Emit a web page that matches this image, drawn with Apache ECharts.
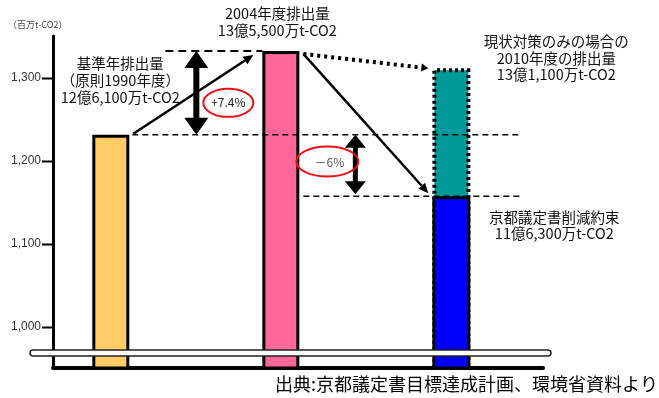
<!DOCTYPE html>
<html>
<head>
<meta charset="utf-8">
<script src="https://cdn.jsdelivr.net/npm/echarts@6/dist/echarts.min.js"></script>
<style>
html,body{margin:0;padding:0;background:#fff;}
#main{width:659px;height:398px;}
</style>
</head>
<body>
<div id="main"></div>
<script>
// ---- data ----
const categories = ['基準年(1990年度)', '2004年度', '2010年度'];
const actualValues = [1231, 1332];      // base year, 2004 (bar heights as drawn)
const bauValue2010 = [1311];            // 2010, current measures only
const targetValue2010 = [1157];         // Kyoto commitment
const yTicks = [1000, 1100, 1200, 1300];
const unitLabel = '（百万t-CO2）';
const baseLabel = '基準年排出量\n（原則1990年度）\n12億6,100万t-CO2';
const y2004Label = '2004年度排出量\n13億5,500万t-CO2';
const bauLabel = '現状対策のみの場合の\n2010年度の排出量\n13億1,100万t-CO2';
const targetLabel = '京都議定書削減約束\n11億6,300万t-CO2';
const incLabel = '+7.4%';
const decLabel = '－6%';
const sourceLabel = '出典:京都議定書目標達成計画、環境省資料より';

const barColors = ['#FFCC66', '#FF6699'];
const FONT = '"Noto Sans CJK JP", "Noto Sans", sans-serif';

const chart = echarts.init(document.getElementById('main'), null, {renderer: 'canvas'});

const option = {
  animation: false,
  backgroundColor: '#fff',
  grid: {left: 53, right: 116, top: 36, bottom: 30, containLabel: false},
  xAxis: {
    type: 'value', min: -0.343, max: 2.539,
    axisLine: {show: true, onZero: false, lineStyle: {color: '#000', width: 4}},
    axisTick: {show: false}, axisLabel: {show: false}, splitLine: {show: false}
  },
  yAxis: {
    type: 'value', min: 950, max: 1350, interval: 50,
    axisLine: {show: true, onZero: false, lineStyle: {color: '#000', width: 3}},
    axisTick: {show: false},
    axisLabel: {
      show: true, customValues: yTicks, margin: 12, color: '#333', fontSize: 12,
      fontFamily: '"Liberation Sans", Arial, sans-serif',
      formatter: v => (yTicks.indexOf(v) >= 0 ? v.toLocaleString('en-US') : '')
    },
    splitLine: {show: false}
  },
  series: [
    {
      type: 'bar', name: 'actual', barWidth: 37, barGap: '-100%',
      data: actualValues.map((v, i) => ({value: [i, v], itemStyle: {color: barColors[i]}})),
      itemStyle: {borderColor: '#000', borderWidth: 3}
    },
    {
      type: 'bar', name: 'bau', barWidth: 38, barGap: '-100%', z: 2,
      data: bauValue2010.map(v => [2, v]),
      itemStyle: {color: '#009999', borderColor: '#000', borderWidth: 4, borderType: [3, 3]}
    },
    {
      type: 'bar', name: 'target', barWidth: 38, barGap: '-100%', z: 3,
      data: targetValue2010.map(v => [2, v]),
      itemStyle: {color: '#0000FF', borderColor: '#000', borderWidth: 3}
    }
  ]
};
chart.setOption(option);

function px(x, y) { return chart.convertToPixel({gridIndex: 0}, [x, y]); }
const half = 19;
const Y = px(0, actualValues[0]);
const P = px(1, actualValues[1]);
const T = px(2, bauValue2010[0]);
const B = px(2, targetValue2010[0]);
const gridLeft = px(-0.343, 950);
const gridRight = px(2.539, 950);

function dblArrow(x, y1, y2, w, hw, hl) {
  return {
    type: 'polygon', z: 50,
    shape: {points: [
      [x, y1], [x + hw / 2, y1 + hl], [x + w / 2, y1 + hl], [x + w / 2, y2 - hl],
      [x + hw / 2, y2 - hl], [x, y2], [x - hw / 2, y2 - hl], [x - w / 2, y2 - hl],
      [x - w / 2, y1 + hl], [x - hw / 2, y1 + hl]
    ]},
    style: {fill: '#000'}
  };
}
function arrowLine(x1, y1, x2, y2, opts) {
  const dx = x2 - x1, dy = y2 - y1, L = Math.sqrt(dx * dx + dy * dy);
  const ux = dx / L, uy = dy / L, hl = opts.hl || 10, hw = opts.hw || 9;
  const bx = x2 - ux * hl, by = y2 - uy * hl;
  return [
    {type: 'line', z: 40, shape: {x1: x1, y1: y1, x2: bx, y2: by},
      style: {stroke: '#000', lineWidth: opts.width || 2.5, lineDash: opts.dash || null}},
    {type: 'polygon', z: 41, shape: {points: [[x2, y2], [bx - uy * hw / 2, by + ux * hw / 2], [bx + uy * hw / 2, by - ux * hw / 2]]},
      style: {fill: '#000'}}
  ];
}
function dashed(x1, x2, y, dash, w) {
  return {type: 'line', z: 30, shape: {x1: x1, y1: y, x2: x2, y2: y},
    style: {stroke: '#000', lineWidth: w, lineDash: dash}};
}
function label(text, x, y, size, lh, color, align) {
  return {type: 'text', z: 60, x: x, y: y,
    style: {text: text, fill: color || '#111', font: size + 'px ' + FONT, lineHeight: lh,
      align: align || 'center', verticalAlign: 'middle'}};
}

const midX1 = (Y[0] + P[0]) / 2;
const midX2 = (P[0] + T[0]) / 2 - 11;
const g = [];
// y-axis ticks at the labelled values (drawn as short lines left of the axis)
yTicks.forEach(v => {
  const p = px(-0.343, v);
  g.push(dashed(p[0] - 11, p[0], Math.round(p[1]) + 0.5, null, 2));
});
// break mark
g.push({type: 'rect', z: 70, shape: {x: gridLeft[0] - 23, y: gridLeft[1] - 18, width: gridRight[0] - gridLeft[0] + 31, height: 6, r: 3},
  style: {fill: '#fff', stroke: '#222', lineWidth: 1.5}});
// dashed reference lines
g.push(dashed(Y[0] + 54, P[0] - half, P[1], [8, 5], 2));
g.push(dashed(Y[0] + half + 2, T[0] + half + 52, Y[1], [6, 4], 1.5));
g.push(dashed(P[0] + half + 3, T[0] + half + 50, B[1], [6, 4], 1.5));
// double arrows
g.push(dblArrow(midX1, P[1], Y[1], 6, 24, 17));
g.push(dblArrow(midX2, Y[1], B[1] - 2, 5, 21, 13));
// diagonal arrows
arrowLine(Y[0] + half + 3, Y[1] - 1, P[0] - half - 9, P[1] + 4, {width: 2.5}).forEach(e => g.push(e));
arrowLine(P[0] + half + 3, P[1] + 3, T[0] - half - 4, T[1], {width: 4, dash: [3, 4], hl: 7, hw: 8}).forEach(e => g.push(e));
arrowLine(P[0] + half + 3, P[1] + 3, B[0] - half - 4, B[1] - 3, {width: 2.5}).forEach(e => g.push(e));
// ellipses
g.push({type: 'ellipse', z: 55, shape: {cx: midX1 + 32, cy: (P[1] + Y[1]) / 2 + 10, rx: 25, ry: 14},
  style: {fill: 'rgba(255,255,255,0)', stroke: '#E8141A', lineWidth: 2}});
g.push(label(incLabel, midX1 + 32, (P[1] + Y[1]) / 2 + 10, 12, 14, '#222'));
g.push({type: 'ellipse', z: 55, shape: {cx: midX2 - 28, cy: (Y[1] + B[1]) / 2 - 4, rx: 31, ry: 15},
  style: {fill: 'rgba(255,255,255,0)', stroke: '#E8141A', lineWidth: 2}});
g.push(label(decLabel, midX2 - 26, (Y[1] + B[1]) / 2 - 3, 12, 14, '#555'));
// text labels
g.push(label(baseLabel, Y[0] + 9, 80, 14.5, 17));
g.push(label(y2004Label, P[0] - 4, 22, 14.5, 17));
g.push(label(bauLabel, T[0] + 105, 58, 14.5, 16.5));
g.push(label(targetLabel, T[0] + 103, 225, 14.5, 16));
g.push(label(unitLabel, 8, 25, 9, 11, '#444', 'left'));
g.push(label(sourceLabel, 275, 384, 18, 20, '#000', 'left'));

chart.setOption({graphic: {elements: g}});
</script>
</body>
</html>
